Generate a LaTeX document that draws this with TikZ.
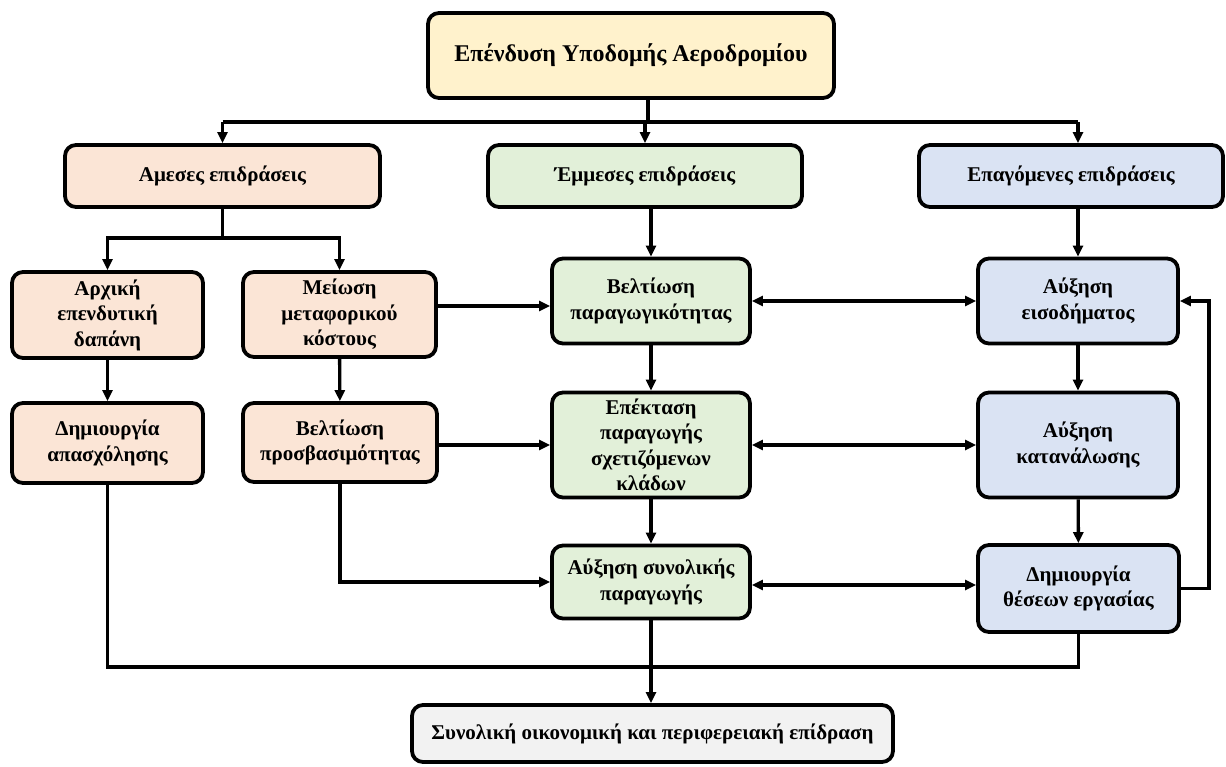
\documentclass[tikz,border=0pt]{standalone}
\usepackage{fontspec}
\setmainfont{Liberation Serif}
\usetikzlibrary{arrows.meta}
\definecolor{cpeach}{HTML}{FBE5D6}
\definecolor{cgreen}{HTML}{E2F0D9}
\definecolor{cblue}{HTML}{DAE3F3}
\definecolor{cyellow}{HTML}{FFF2CC}
\definecolor{cgray}{HTML}{F2F2F2}
\tikzset{
  box/.style={draw=black, line width=3.8pt, rounded corners=11pt, align=center, inner sep=0pt,
    font=\bfseries\fontsize{21}{25.5}\selectfont, text=black},
  ln/.style={line width=3.4pt, draw=black},
  arr/.style={ln, -{Triangle[length=11pt,width=10pt]}},
  arrb/.style={ln, {Triangle[length=11pt,width=10pt]}-{Triangle[length=11pt,width=10pt]}},
}
\begin{document}
\begin{tikzpicture}[x=1pt,y=-1pt]
\useasboundingbox (0,0) rectangle (1226,767);
% nodes
\node[box, fill=cyellow, minimum width=406pt, minimum height=85pt, font=\bfseries\fontsize{24}{28}\selectfont] (top) at (631,55.5) {Επένδυση Υποδομής Αεροδρομίου};
\node[box, fill=cpeach, minimum width=315pt, minimum height=62pt] (dir) at (222.5,176) {Αμεσες επιδράσεις};
\node[box, fill=cgreen, minimum width=314pt, minimum height=62pt] (ind) at (645,176) {Έμμεσες επιδράσεις};
\node[box, fill=cblue, minimum width=304pt, minimum height=62pt] (indu) at (1071,176) {Επαγόμενες επιδράσεις};
\node[box, fill=cpeach, minimum width=191pt, minimum height=86pt] (arx) at (107.5,315) {Αρχική\\επενδυτική\\δαπάνη};
\node[box, fill=cpeach, minimum width=193pt, minimum height=85pt] (mei) at (339.5,314.5) {Μείωση\\μεταφορικού\\κόστους};
\node[box, fill=cpeach, minimum width=191pt, minimum height=80pt] (dimap) at (107.5,443) {Δημιουργία\\απασχόλησης};
\node[box, fill=cpeach, minimum width=194pt, minimum height=79pt] (prosv) at (340,442.5) {Βελτίωση\\προσβασιμότητας};
\node[box, fill=cgreen, minimum width=198pt, minimum height=85pt] (vel) at (651,301) {Βελτίωση\\παραγωγικότητας};
\node[box, fill=cgreen, minimum width=198pt, minimum height=105pt] (epe) at (651,445) {Επέκταση\\παραγωγής\\σχετιζόμενων\\κλάδων};
\node[box, fill=cgreen, minimum width=198pt, minimum height=73pt] (ayx) at (651,582) {Αύξηση συνολικής\\παραγωγής};
\node[box, fill=cblue, minimum width=200pt, minimum height=85pt] (eis) at (1078,301) {Αύξηση\\εισοδήματος};
\node[box, fill=cblue, minimum width=200pt, minimum height=105pt] (kat) at (1078,445) {Αύξηση\\κατανάλωσης};
\node[box, fill=cblue, minimum width=201pt, minimum height=87pt] (thes) at (1078.5,588.5) {Δημιουργία\\θέσεων εργασίας};
\node[box, fill=cgray, minimum width=481pt, minimum height=57pt] (bot) at (652.5,733.5) {Συνολική οικονομική και περιφερειακή επίδραση};
% helper coordinates
\coordinate (bus) at (648,122);
\coordinate (sp) at (222.5,238);
\coordinate (bb) at (652,667);
\coordinate (m1) at ([yshift=8.5pt]mei.east);
% top distribution
\draw[ln] ([xshift=17pt]top.south) -- ([xshift=17pt]top.south |- bus);
\draw[ln] (bus -| dir.north) -- (bus -| eis.north);
\draw[arr] (bus -| dir.north) -- (dir.north);
\draw[arr] (bus -| ind.south) -- (ind.north);
\draw[arr] (bus -| eis.north) -- (indu.north -| eis.north);
% direct effects
\draw[arr] (dir.south) -- (sp) -| (arx.north);
\draw[arr] (sp) -| (mei.north);
\draw[arr] (arx) -- (dimap);
\draw[arr] (mei) -- (prosv);
\draw[arr] (m1) -- (vel.west |- m1);
\draw[arr] (prosv.east |- epe.west) -- (epe.west);
\draw[arr] (prosv.south) |- (ayx.west);
% indirect
\draw[arr] (ind.south -| vel.north) -- (vel.north);
\draw[arr] (vel) -- (epe);
\draw[arr] (epe) -- (ayx);
% induced
\draw[arr] (indu.south -| eis.north) -- (eis.north);
\draw[arr] (eis) -- (kat);
\draw[arr] (kat) -- (thes);
\draw[arr] (thes.east) -- ++(28,0) |- (eis.east);
% bidirectional
\draw[arrb] (vel.east) -- (eis.west);
\draw[arrb] (epe.east) -- (kat.west);
\draw[arrb] ([yshift=-3pt]ayx.east) -- ([yshift=-3pt]ayx.east -| thes.west);
% bottom
\draw[ln] (dimap.south) -- (dimap.south |- bb) -- (thes.south |- bb) -- (thes.south);
\draw[arr] (ayx.south) -- (ayx.south |- bot.north);
\end{tikzpicture}
\end{document}
